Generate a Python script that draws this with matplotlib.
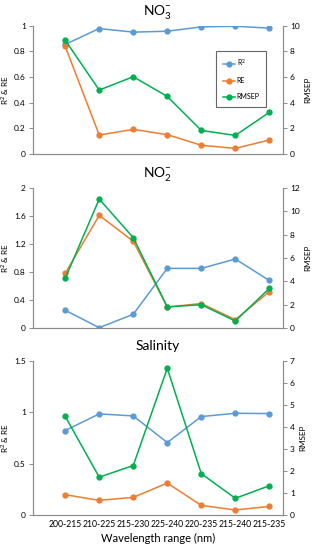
import numpy as np
import matplotlib.pyplot as plt

plt.rcParams['font.family'] = ['Lato', 'DejaVu Sans']
plt.rcParams['mathtext.fontset'] = 'custom'
plt.rcParams['mathtext.rm'] = 'Lato'

ranges = ['200-215', '210-225', '215-230', '225-240', '220-235', '215-240', '215-235']

no3_r2 = [0.855, 0.979, 0.951, 0.958, 0.992, 0.997, 0.982]
no3_re = [0.84, 0.148, 0.192, 0.151, 0.068, 0.044, 0.109]
no3_rmsep = [8.88, 4.99, 6.03, 4.49, 1.84, 1.45, 3.25]

no2_r2 = [0.254, 0.005, 0.196, 0.852, 0.852, 0.986, 0.679]
no2_re = [0.78, 1.61, 1.24, 0.30, 0.35, 0.12, 0.52]
no2_rmsep = [4.25, 11.05, 7.75, 1.81, 2.0, 0.6, 3.4]

sal_r2 = [0.823, 0.985, 0.965, 0.706, 0.959, 0.991, 0.988]
sal_re = [0.198, 0.143, 0.172, 0.311, 0.094, 0.049, 0.084]
sal_rmsep = [4.49, 1.72, 2.25, 6.67, 1.88, 0.76, 1.33]

blue = '#5B9BD5'
orange = '#ED7D31'
green = '#00B050'
spc = '#8c8c8c'

panels = [
    ('NO$_3^{-}$', no3_r2, no3_re, no3_rmsep, (0, 1), np.arange(0, 1.01, 0.2), (0, 10), np.arange(0, 11, 2)),
    ('NO$_2^{-}$', no2_r2, no2_re, no2_rmsep, (0, 2), np.arange(0, 2.01, 0.4), (0, 12), np.arange(0, 13, 2)),
    ('Salinity', sal_r2, sal_re, sal_rmsep, (0, 1.5), [0, 0.5, 1, 1.5], (0, 7), np.arange(0, 8, 1)),
]
boxes = [[0.105, 0.72, 0.799, 0.233],
         [0.105, 0.4036, 0.799, 0.2545],
         [0.105, 0.0636, 0.799, 0.28]]

fig = plt.figure(figsize=(3.13, 5.5), dpi=100)
x = np.arange(len(ranges))

for i, (title, r2, re, rm, yl, yt, yl2, yt2) in enumerate(panels):
    ax = fig.add_axes(boxes[i])
    ax2 = ax.twinx()
    l1, = ax.plot(x, r2, '-o', color=blue, ms=3.5, lw=1.1, label='R$^2$')
    l2, = ax.plot(x, re, '-o', color=orange, ms=3.5, lw=1.1, label='RE')
    l3, = ax2.plot(x, rm, '-o', color=green, ms=3.5, lw=1.1, label='RMSEP')
    ax.set_xlim(-0.95, 6.4)
    ax.set_ylim(*yl)
    ax.set_yticks(yt)
    ax.set_yticklabels([('%g' % v) for v in yt])
    ax2.set_ylim(*yl2)
    ax2.set_yticks(yt2)
    for a in (ax, ax2):
        a.spines['top'].set_visible(False)
        for s in ('left', 'right', 'bottom'):
            a.spines[s].set_color(spc)
            a.spines[s].set_linewidth(0.8)
        a.tick_params(axis='y', labelsize=6, length=3, width=0.7, color=spc, pad=2)
    ax.tick_params(axis='x', length=0)
    ax.set_title(title, fontsize=10, pad=8)
    ax.set_ylabel('R$^2$ & RE', fontsize=5.8, labelpad=2)
    ax2.set_ylabel('RMSEP', fontsize=5.8, labelpad=3)
    if i == 2:
        ax.set_xticks(x)
        ax.set_xticklabels(ranges, fontsize=6.2)
        ax.set_xlabel('Wavelength range (nm)', fontsize=8, labelpad=3)
    else:
        ax.set_xticks([])
    if i == 0:
        leg = ax.legend([l1, l2, l3], ['R$^2$', 'RE', 'RMSEP'], loc='upper left',
                        bbox_to_anchor=(0.72, 0.83), fontsize=5, frameon=True,
                        fancybox=False, borderpad=0.9, labelspacing=1.3,
                        handlelength=1.8, handletextpad=0.2)
        leg.get_frame().set_edgecolor('#404040')
        leg.get_frame().set_linewidth(0.8)

fig.savefig('out.png', dpi=100)
